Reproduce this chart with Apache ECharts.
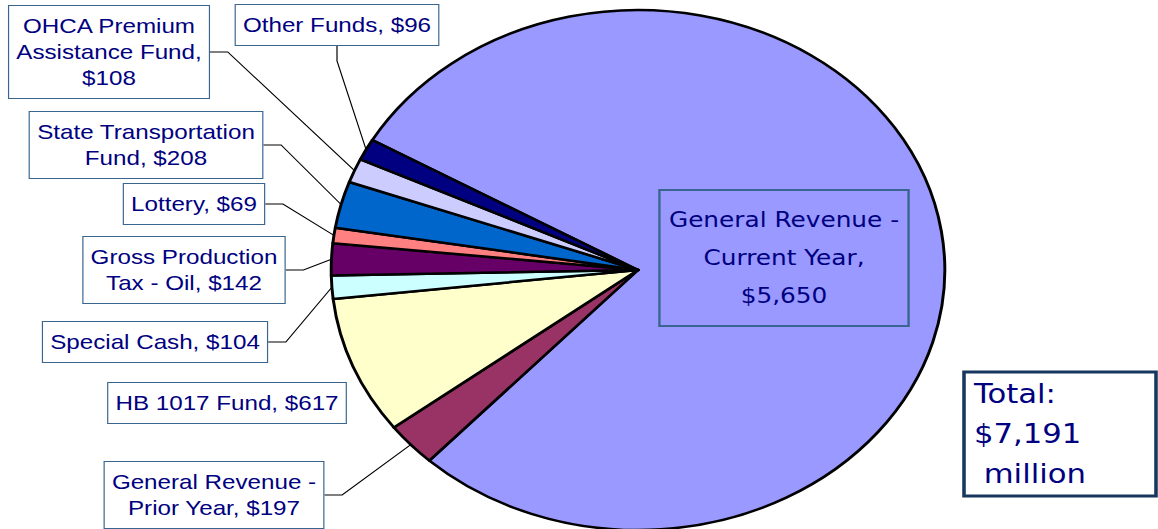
<!DOCTYPE html>
<html>
<head>
<meta charset="utf-8">
<script src="https://cdn.jsdelivr.net/npm/echarts@6/dist/echarts.min.js"></script>
<style>
    html, body { margin: 0; padding: 0; background: #fff; overflow: hidden; }
    /* the original chart is stretched sideways, so draw it narrower and scale it out */
    #main { width: 982px; height: 529px; transform: scaleX(1.18); transform-origin: 0 0; }
</style>
</head>
<body>
<div id="main"></div>
<script>
// funding sources, $ millions
var categories = [
    'General Revenue -\nCurrent Year',
    'General Revenue -\nPrior Year',
    'HB 1017 Fund',
    'Special Cash',
    'Gross Production\nTax - Oil',
    'Lottery',
    'State Transportation\nFund',
    'OHCA Premium\nAssistance Fund',
    'Other Funds'
];
var values = [5650, 197, 617, 104, 142, 69, 208, 108, 96];

var palette = ['#9999FF', '#993366', '#FFFFCC', '#CCFFFF', '#660066', '#FF8080', '#0066CC', '#CCCCFF', '#000080'];

var STRETCH = 1.18;

// label box centres as measured on the picture (page px)
var labelSpots = [
    { x: 784, y: 258, sep: '\n', line: false },
    { x: 214, y: 495 },
    { x: 227, y: 403, line: false },
    { x: 155, y: 342 },
    { x: 184, y: 270 },
    { x: 194, y: 204 },
    { x: 146, y: 145 },
    { x: 109, y: 52, sep: '\n' },
    { x: 337, y: 25 }
];

function money(v) {
    return '$' + v.toLocaleString('en-US');
}

var total = 0;
for (var i = 0; i < values.length; i++) {
    total += values[i];
}

var seriesData = categories.map(function (name, i) {
    var item = { name: name, value: values[i] };
    if (labelSpots[i].line === false) {
        item.labelLine = { show: false };
    }
    if (i === 0) {
        item.label = {
            backgroundColor: 'transparent',
            fontFamily: 'DejaVu Sans',
            fontSize: 21,
            lineHeight: 38,
            padding: [11, 8]
        };
    }
    return item;
});

var chart = echarts.init(document.getElementById('main'), null, { renderer: 'svg' });

chart.setOption({
    animation: false,
    color: palette,
    series: [
        {
            type: 'pie',
            center: [638 / STRETCH, 270],
            radius: 260,
            startAngle: 150,
            clockwise: true,
            avoidLabelOverlap: false,
            data: seriesData,
            itemStyle: {
                borderColor: '#000',
                borderWidth: 2.5
            },
            label: {
                show: true,
                position: 'outside',
                formatter: function (p) {
                    var sep = labelSpots[p.dataIndex].sep || ' ';
                    return p.name + ',' + sep + money(p.value);
                },
                color: '#000080',
                fontFamily: 'Liberation Sans, Arial, sans-serif',
                fontSize: 20.5,
                lineHeight: 26,
                align: 'center',
                backgroundColor: '#fff',
                borderColor: '#3A6591',
                borderWidth: 1,
                padding: [7, 6]
            },
            labelLine: {
                show: true,
                length: 10,
                length2: 15,
                lineStyle: {
                    color: '#000',
                    width: 1
                }
            },
            labelLayout: function (params) {
                var spot = labelSpots[params.dataIndex];
                return {
                    x: spot.x / STRETCH,
                    y: spot.y,
                    align: 'center',
                    verticalAlign: 'middle',
                    hideOverlap: false,
                    moveOverlap: null
                };
            },
            emphasis: { disabled: true }
        }
    ],
    graphic: [
        {
            type: 'rect',
            x: 964 / STRETCH,
            y: 372,
            shape: { x: 0, y: 0, width: 192 / STRETCH, height: 124 },
            style: { fill: '#fff', stroke: '#17375E', lineWidth: 3 }
        },
        {
            type: 'text',
            x: 974 / STRETCH,
            y: 374,
            style: {
                text: 'Total:\n' + money(total) + '\n million',
                fill: '#000080',
                fontFamily: 'DejaVu Sans',
                fontSize: 26,
                lineHeight: 40,
                verticalAlign: 'top'
            }
        }
    ]
});
</script>
</body>
</html>
